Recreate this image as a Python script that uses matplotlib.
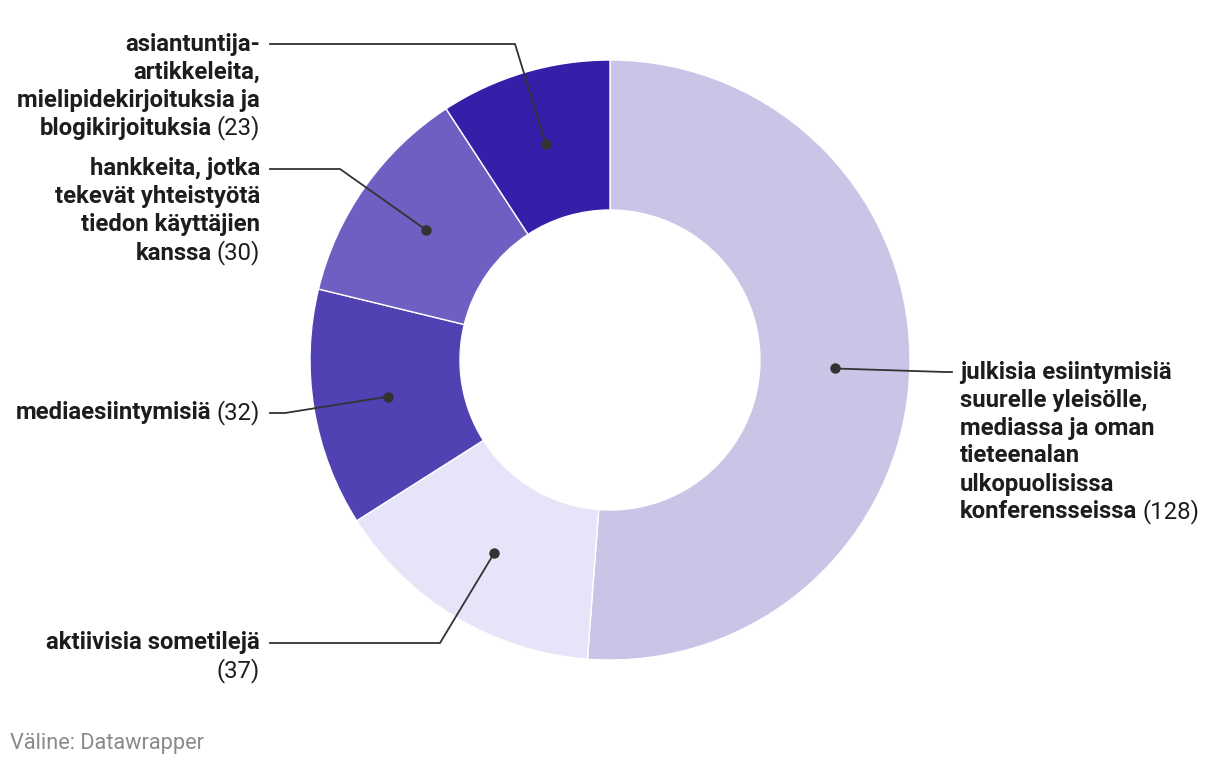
import numpy as np
import matplotlib.pyplot as plt

plt.rcParams['font.family'] = ['Roboto', 'DejaVu Sans']

# data
categories = [
    ['julkisia esiintymisiä', 'suurelle yleisölle,', 'mediassa ja oman',
     'tieteenalan', 'ulkopuolisissa', 'konferensseissa'],
    ['aktiivisia sometilejä'],
    ['mediaesiintymisiä'],
    ['hankkeita, jotka', 'tekevät yhteistyötä', 'tiedon käyttäjien', 'kanssa'],
    ['asiantuntija-', 'artikkeleita,', 'mielipidekirjoituksia ja', 'blogikirjoituksia'],
]
values = [128, 37, 32, 30, 23]
colors = ['#c8c5e6', '#e6e4f8', '#5142b3', '#6f5fc2', '#351fa9']

W, H = 1220, 766
CX, CY = 610, 360
R_OUT, R_IN = 300, 150


def py(y):
    return H - y


fig = plt.figure(figsize=(W / 100, H / 100), dpi=100)
ax = fig.add_axes([0, 0, 1, 1])

wedges, _ = ax.pie(values, colors=colors, startangle=90, counterclock=False,
                   radius=R_OUT, center=(CX, py(CY)),
                   wedgeprops=dict(width=R_OUT - R_IN, edgecolor='white', linewidth=1))
ax.set_xlim(0, W)
ax.set_ylim(0, H)
ax.axis('off')

renderer = fig.canvas.get_renderer()

# label layout: side, first line y (px), elbow x (px)
layout = [
    ('right', 372, 945),
    ('left', 643, 440),
    ('left', 413, 285),
    ('left', 169, 340),
    ('left', 44, 515),
]
LINE_H = 28
FS = 17.2
TXT = '#1d1d1d'
LC = '#333333'


def text_width(t):
    bb = t.get_window_extent(renderer=renderer)
    return bb.width


for w, lines, val, (side, y0, ex) in zip(wedges, categories, values, layout):
    mid = np.deg2rad((w.theta1 + w.theta2) / 2)
    rr = (R_OUT + R_IN) / 2
    dx = CX + rr * np.cos(mid)
    dy = py(CY) + rr * np.sin(mid)
    ax.plot([dx], [dy], 'o', color=LC, markersize=6.5, zorder=5)
    if side == 'right':
        ax.plot([dx, ex, 952], [dy, py(y0), py(y0)], color=LC, lw=1.3, zorder=4)
        x = 960
        ha = 'left'
    else:
        ax.plot([dx, ex, 270], [dy, py(y0), py(y0)], color=LC, lw=1.3, zorder=4)
        x = 260
        ha = 'right'

    num = '(%d)' % val
    last_y = y0 + LINE_H * (len(lines) - 1)
    for i, ln in enumerate(lines[:-1]):
        ax.text(x, py(y0 + LINE_H * i), ln, ha=ha, va='center', fontsize=FS,
                fontweight='bold', color=TXT)
    last = lines[-1]
    if last == 'aktiivisia sometilejä':
        # number wraps onto its own line
        ax.text(x, py(last_y), last, ha=ha, va='center', fontsize=FS,
                fontweight='bold', color=TXT)
        ax.text(x, py(last_y + LINE_H), num, ha=ha, va='center', fontsize=FS,
                color=TXT)
        continue
    if ha == 'left':
        t = ax.text(x, py(last_y), last, ha='left', va='center', fontsize=FS,
                    fontweight='bold', color=TXT)
        wd = text_width(t)
        ax.text(x + wd + 5, py(last_y), num, ha='left', va='center', fontsize=FS,
                color=TXT)
    else:
        t = ax.text(x, py(last_y), num, ha='right', va='center', fontsize=FS,
                    color=TXT)
        wd = text_width(t)
        ax.text(x - wd - 5, py(last_y), last, ha='right', va='center', fontsize=FS,
                fontweight='bold', color=TXT)

ax.text(10, py(743), 'Väline: Datawrapper', ha='left', va='center',
        fontsize=15.7, color='#8a8a8a')

fig.savefig('out.png', dpi=100)
